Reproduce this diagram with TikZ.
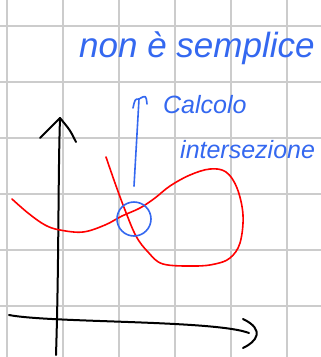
\documentclass[tikz,border=0pt]{standalone}
\usepackage{fontspec}
\setsansfont{Liberation Sans}
\definecolor{inkblue}{RGB}{52,104,240}
\definecolor{gridgray}{RGB}{204,204,204}
\begin{document}
\begin{tikzpicture}[x=1pt, y=-1pt, >=stealth]
	\useasboundingbox (0,0) rectangle (321,357);
	\fill[white] (0,0) rectangle (321,357);
	% quadretti
	\foreach \k in {0,...,5} {
		\draw[gridgray, line width=2.6] (7+\k*56, 0) -- (7+\k*56, 357);
		\draw[gridgray, line width=2.6] (0, 26+\k*56) -- (321, 26+\k*56);
	}
	% assi
	\coordinate (ybot) at (56,355);
	\coordinate (ytop) at (60,118);
	\coordinate (xleft) at (9,315);
	\coordinate (xright) at (249,333);
	\draw[line width=2, line cap=round, line join=round] (ybot) .. controls (59,260) and (58,180) .. (ytop);
	\draw[line width=2, line cap=round, line join=round] (40,138) .. controls (50,128) .. (ytop) .. controls (70,130) .. (76,142);
	\draw[line width=2, line cap=round, line join=round] (xleft) .. controls (50,323) and (215,320) .. (xright);
	\draw[line width=2, line cap=round, line join=round] (243,319) .. controls (266,330) and (256,342) .. (243,348);
	% curva
	\draw[red, line width=1.6, line cap=round] plot[smooth, tension=0.6] coordinates {
		(12,199) (28,213) (45,225) (60,230) (83,232) (105,225) (122,216) (140,208)
		(155,198) (170,186) (190,175) (210,169) (226,172) (237,188) (243,215)
		(240,243) (230,258) (215,264) (195,266) (163,264) (148,252) (136,236)
		(125,210) (115,183) (106,157)};
	% intersezione
	\node[draw=inkblue, line width=1.6, circle, minimum size=34, inner sep=0] (isect) at (134,219) {};
	\coordinate (tip) at (139,99);
	\draw[inkblue, line width=1.6, line cap=round] ([yshift=15pt]isect.north) -- (tip);
	\draw[inkblue, line width=1.6, line cap=round, line join=round] (133,108) .. controls (135,99) .. (tip) .. controls (146,95) .. (147,104);
	% scritte
	\node[inkblue, font=\sffamily\itshape\fontsize{35}{42}\selectfont, anchor=base west, inner sep=0] (hard) at (79,57) {non è semplice};
	\node[inkblue, font=\sffamily\itshape\fontsize{25}{30}\selectfont, anchor=base west, inner sep=0] (calc) at (163,113) {Calcolo};
	\node[inkblue, font=\sffamily\itshape\fontsize{25}{30}\selectfont, anchor=base west, inner sep=0] (inter) at (180,158) {intersezione};
\end{tikzpicture}
\end{document}
